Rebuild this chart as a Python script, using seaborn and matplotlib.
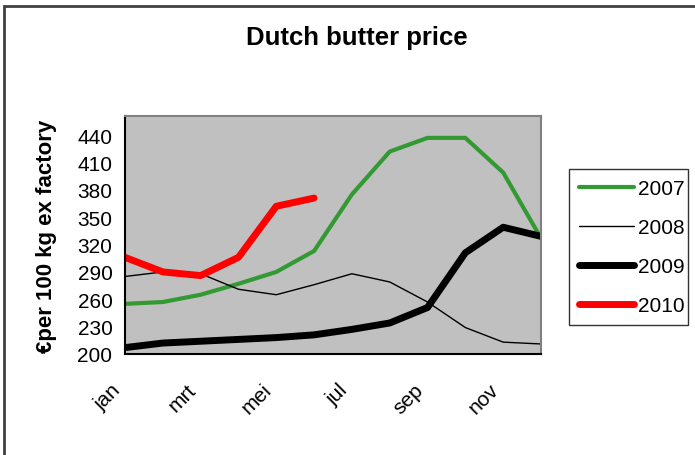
import pandas as pd
import seaborn as sns
import matplotlib.pyplot as plt
from matplotlib.patches import Rectangle
from matplotlib.transforms import ScaledTranslation

# Monthly butter prices (euro per 100 kg ex factory)
months = ["jan", "feb", "mrt", "apr", "mei", "jun",
          "jul", "aug", "sep", "okt", "nov", "dec"]
p2007 = [255, 257, 265, 277, 290, 313, 375, 422, 437, 437, 399, 327]
p2008 = [285, 290, 288, 271, 265, 276, 288, 279, 257, 229, 213, 211]
p2009 = [207, 212, 214, 216, 218, 221, 227, 234, 251, 311, 339, 329]
p2010 = [306, 290, 286, 306, 362, 371]

yticks = [200, 230, 260, 290, 320, 350, 380, 410, 440]

series = {"2007": p2007, "2008": p2008, "2009": p2009, "2010": p2010}
colors = {"2007": "#339933", "2008": "black", "2009": "black", "2010": "#ff0000"}
widths = {"2007": 3.0, "2008": 1.0, "2009": 5.0, "2010": 5.0}

rows = []
for year, vals in series.items():
    for i, v in enumerate(vals):
        rows.append({"year": year, "month": i, "price": v})
df = pd.DataFrame(rows)

sns.set_style("white")
plt.rcParams["font.family"] = ["Liberation Sans", "DejaVu Sans"]
plt.rcParams.update({"text.color": "black", "axes.labelcolor": "black",
                     "xtick.color": "black", "ytick.color": "black"})

fig = plt.figure(figsize=(6.95, 4.56), dpi=100)
ax = fig.add_axes([125 / 695, 1 - 355 / 456, 416 / 695, 238 / 456])
ax.set_facecolor("#c0c0c0")

for year in series:
    sns.lineplot(data=df[df["year"] == year], x="month", y="price", ax=ax,
                 color=colors[year], linewidth=widths[year], label=year,
                 solid_capstyle="round", solid_joinstyle="round")

ax.set_xlim(0, 11)
ax.set_ylim(200, 461)
ax.set_yticks(yticks)
ax.set_xticks(range(12))
ax.set_xticklabels([m if i % 2 == 0 else "" for i, m in enumerate(months)],
                   rotation=45, ha="right", rotation_mode="anchor")
ax.tick_params(axis="both", direction="inout", length=10, width=1,
               color="#404040", labelcolor="black", labelsize=15, pad=4)
ax.tick_params(axis="x", pad=7)
shift = ScaledTranslation(-14 / 100, -9 / 100, fig.dpi_scale_trans)
for lbl in ax.get_xticklabels():
    lbl.set_transform(lbl.get_transform() + shift)
ax.set_xlabel("")
ax.set_ylabel("€per 100 kg ex factory", fontsize=16, fontweight="bold")
ax.yaxis.set_label_coords(-0.163, 0.5)

for side in ["left", "bottom"]:
    ax.spines[side].set_color("black")
    ax.spines[side].set_linewidth(1.5)
for side in ["top", "right"]:
    ax.spines[side].set_color("#808080")
    ax.spines[side].set_linewidth(1.5)

ax.get_legend().remove()
handles, labels = ax.get_legend_handles_labels()
leg = fig.legend(handles, labels, loc="upper left",
                 bbox_to_anchor=(569 / 695, 1 - 330 / 456, 119 / 695, 160 / 456),
                 mode="expand", fontsize=15, frameon=True, fancybox=False,
                 edgecolor="black", labelspacing=0.95, handlelength=2.6,
                 handletextpad=0.2, borderaxespad=0, borderpad=0.5)
leg.get_frame().set_linewidth(1)

fig.suptitle("Dutch butter price", x=357 / 695, y=1 - 38 / 456, va="center",
             fontsize=18.5, fontweight="bold", color="black")

fig.patches.append(Rectangle((4 / 695, -0.1), 1.1, 1 - 7 / 456 + 0.1,
                             transform=fig.transFigure, fill=False,
                             edgecolor="#404040", linewidth=2))

fig.savefig("out.png", dpi=100)
